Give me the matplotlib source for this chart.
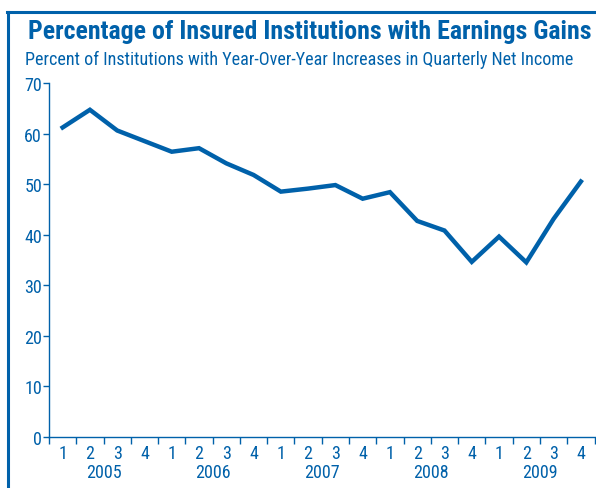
import numpy as np
import matplotlib
matplotlib.use("Agg")
from matplotlib import pyplot as plt
from matplotlib.lines import Line2D

plt.rcParams['font.family'] = ['Roboto Condensed', 'DejaVu Sans']

BLUE = '#0061aa'

quarters = ['1', '2', '3', '4'] * 5
years = ['2005', '2006', '2007', '2008', '2009']
pct_gains = [61.2, 64.7, 60.6, 58.5, 56.4, 57.1, 54.1, 51.8, 48.5, 49.1,
             49.8, 47.1, 48.4, 42.7, 40.8, 34.6, 39.6, 34.5, 43.1, 50.5]
y_ticks = [0, 10, 20, 30, 40, 50, 60, 70]

fig = plt.figure(figsize=(5.96, 4.89), dpi=100)

# outer frame (left and top edges only)
fig.add_artist(Line2D([8 / 596, 8 / 596], [0, 1 - 13 / 489], color=BLUE, lw=2.2,
                      transform=fig.transFigure))
fig.add_artist(Line2D([7 / 596, 1], [1 - 13 / 489, 1 - 13 / 489], color=BLUE, lw=2.2,
                      transform=fig.transFigure))

fig.text(309.5 / 596, 1 - 32 / 489, 'Percentage of Insured Institutions with Earnings Gains',
         ha='center', va='center', fontsize=18.6, fontweight='bold', color=BLUE)
fig.text(25 / 596, 1 - 60 / 489,
         'Percent of Institutions with Year-Over-Year Increases in Quarterly Net Income',
         ha='left', va='center', fontsize=13.1, color=BLUE)

ax = fig.add_axes([49 / 596, 1 - 437.7 / 489, 545.5 / 596, 353.7 / 489])
x = np.arange(len(pct_gains)) + 0.5
ax.plot(x, pct_gains, color=BLUE, lw=3.2, solid_joinstyle='miter')

ax.set_xlim(0, len(pct_gains))
ax.set_ylim(0, 70)
ax.set_yticks(y_ticks)
ax.set_yticklabels([str(v) for v in y_ticks])
ax.set_xticks(np.arange(len(pct_gains) + 1))
ax.set_xticklabels([])
ax.set_xticks(x, minor=True)
ax.set_xticklabels(quarters, minor=True)

for s in ['top', 'right']:
    ax.spines[s].set_visible(False)
for s in ['left', 'bottom']:
    ax.spines[s].set_color(BLUE)
    ax.spines[s].set_linewidth(1.0)

ax.tick_params(axis='y', colors=BLUE, labelsize=13, length=4, width=1, pad=1)
ax.tick_params(axis='x', which='major', colors=BLUE, length=5, width=1)
ax.tick_params(axis='x', which='minor', colors=BLUE, labelsize=13, length=0, pad=5)

for i, yr in enumerate(years):
    ax.text(4 * i + 2, -0.075, yr, transform=ax.get_xaxis_transform(),
            ha='center', va='top', fontsize=13, color=BLUE)

fig.savefig('out.png', dpi=100)
